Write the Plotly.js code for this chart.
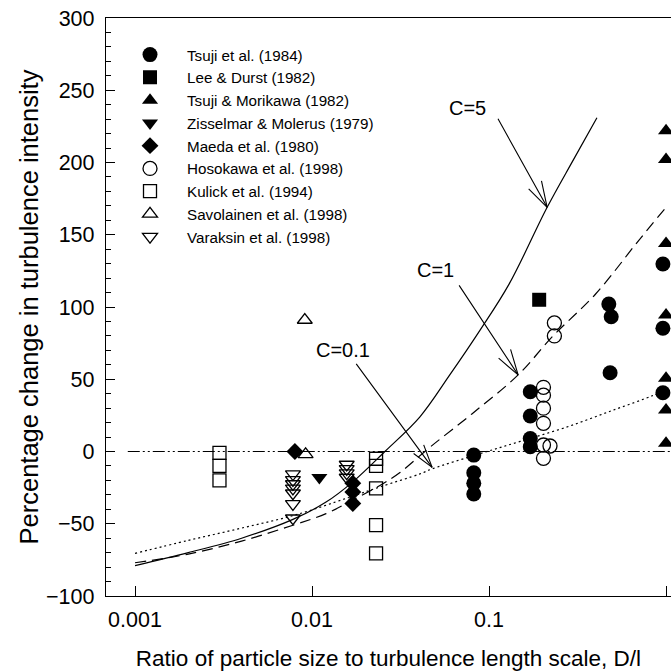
<!DOCTYPE html>
<html><head><meta charset="utf-8">
<script src="https://cdn.plot.ly/plotly-3.0.1.min.js"></script>
<style>html,body{margin:0;padding:0;overflow:hidden;background:#fff}</style>
</head><body><div id="chart" style="width:671px;height:671px"></div>
<script>
// ---- data ----
var tsuji1984_x = [0.082,0.082,0.082,0.082, 0.171,0.171,0.171,0.171, 0.475,0.49,0.483, 0.96,0.96,0.96];
var tsuji1984_y = [-2.5,-14.7,-22,-29.4, 41.4,24.6,9,3.3, 102,93.3,54.5, 129.8,85.3,40.7];
var leeDurst_x = [0.192];
var leeDurst_y = [105];
var tsujiMorikawa_x = [1.0,1.0,1.0,1.0,1.0,1.0,1.0];
var tsujiMorikawa_y = [222,202,144,94.5,50.7,28.7,5.7];
var zisselmar_x = [0.011];
var zisselmar_y = [-18];
var maeda_x = [0.008,0.017,0.017,0.017];
var maeda_y = [0,-22,-28,-36];
var hosokawa_x = [0.203,0.203,0.203,0.203,0.203,0.203,0.221,0.234,0.234];
var hosokawa_y = [44.4,39,30,19.5,4.5,-4.7,3.8,89,80];
var kulick_x = [0.003,0.003,0.003,0.023,0.023,0.023,0.023,0.023];
var kulick_y = [-1,-10,-20,-5,-10,-25.5,-51,-70.5];
var savolainen_x = [0.0092,0.0091];
var savolainen_y = [-2,91];
var varaksin_x = [0.0078,0.0078,0.0078,0.0078,0.0078,0.0078,0.0078,0.0157,0.0157,0.0157,0.0157];
var varaksin_y = [-15.6,-19.7,-22.5,-25.5,-28.9,-36.3,-46.2,-9,-12,-15,-18];

var c5_x = [0.001,0.002,0.004,0.0078,0.012,0.017,0.0258,0.0407,0.06,0.089,0.13,0.213,0.3,0.407];
var c5_y = [-79,-70,-60,-47,-35,-21,0,24,53,84,116,169,202,231];
var c1_x = [0.001,0.002,0.004,0.0078,0.012,0.017,0.0242,0.0314,0.0464,0.08,0.146,0.23,0.4,0.7,1.0];
var c1_y = [-77,-71,-62,-51,-43,-33.6,-23.5,-14.5,3,26,53,80,109,146,169];
var c01_x = [0.001,0.002,0.004,0.008,0.016,0.0242,0.0407,0.0477,0.089,0.15,0.27,0.5,0.845,1.0];
var c01_y = [-70.5,-61.5,-53,-44,-32,-24.5,-15.5,-12,-1.5,7,16.6,28.5,38.8,43];
var ref_x = [0.00091,1.3];
var ref_y = [0,0];

var xTickVals = [0.001,0.01,0.1,1];
var xTickText = ['0.001','0.01','0.1','1'];
var yTickVals = [-100,-50,0,50,100,150,200,250,300];

var seriesNames = ['Tsuji et al. (1984)','Lee & Durst (1982)','Tsuji & Morikawa (1982)','Zisselmar & Molerus (1979)','Maeda et al. (1980)','Hosokawa et al. (1998)','Kulick et al. (1994)','Savolainen et al. (1998)','Varaksin et al. (1998)'];
var curveLabels = ['C=5','C=1','C=0.1'];

// ---- traces ----
function line(x,y,dash,smooth){
  return {x:x,y:y,mode:'lines',type:'scatter',showlegend:false,hoverinfo:'skip',
          line:{color:'black',width:1.2,dash:dash,shape:smooth?'spline':'linear',smoothing:1}};
}
function pts(x,y,name,symbol,size){
  var open = symbol.indexOf('open')>=0;
  return {x:x,y:y,mode:'markers',type:'scatter',name:name,legendgroup:name,
          marker:{symbol:symbol,size:size,color:'black',line:{color:'black',width:open?1.3:0}}};
}
var traces = [
  line(ref_x,ref_y,'12px,3px,2px,3px,2px,3px',false),
  line(c5_x,c5_y,'solid',true),
  line(c1_x,c1_y,'11px,6px',true),
  line(c01_x,c01_y,'2px,3px',true),
  pts(tsuji1984_x,tsuji1984_y,seriesNames[0],'circle',15),
  pts(leeDurst_x,leeDurst_y,seriesNames[1],'square',14),
  pts(tsujiMorikawa_x,tsujiMorikawa_y,seriesNames[2],'triangle-up',14),
  pts(zisselmar_x,zisselmar_y,seriesNames[3],'triangle-down',14),
  pts(maeda_x,maeda_y,seriesNames[4],'diamond',13),
  pts(hosokawa_x,hosokawa_y,seriesNames[5],'circle-open',14),
  pts(kulick_x,kulick_y,seriesNames[6],'square-open',13),
  pts(savolainen_x,savolainen_y,seriesNames[7],'triangle-up-open',13),
  pts(varaksin_x,varaksin_y,seriesNames[8],'triangle-down-open',13)
];

// ---- annotations: labels + arrows (tip on curve, shaft offset, V head) ----
var arrowSpecs = [
  {tx:Math.log10(0.213), ty:169, ax:-50, ay:-90, h1:[-20,-20], h2:[-6,-28], lx:Math.log10(0.0751), ly:237.7},
  {tx:Math.log10(0.146), ty:53, ax:-60, ay:-91, h1:[-21,-18], h2:[-8,-27], lx:Math.log10(0.0496), ly:125.6},
  {tx:Math.log10(0.0477), ty:-11, ax:-77, ay:-105, h1:[-20,-15], h2:[-9,-24], lx:Math.log10(0.01496), ly:70.2}
];
var annotations = [];
arrowSpecs.forEach(function(s,i){
  [[s.ax,s.ay],s.h1,s.h2].forEach(function(o){
    annotations.push({x:s.tx,y:s.ty,xref:'x',yref:'y',ax:o[0],ay:o[1],text:'',showarrow:true,
      arrowhead:0,arrowwidth:1.1,arrowcolor:'black',standoff:0,startstandoff:0});
  });
  annotations.push({x:s.lx,y:s.ly,xref:'x',yref:'y',text:curveLabels[i],showarrow:false,
    font:{size:20,color:'black'},xanchor:'center',yanchor:'middle'});
});

var layout = {
  width:671,height:671,
  margin:{l:106,r:0,t:18,b:75},
  paper_bgcolor:'white',plot_bgcolor:'white',
  font:{family:'"Liberation Sans", Arial, Helvetica, sans-serif',color:'black',size:20},
  showlegend:true,
  legend:{x:0.0124,y:0.965,xanchor:'left',yanchor:'top',font:{size:15.2,color:'black'},
          itemwidth:64,bgcolor:'rgba(0,0,0,0)',borderwidth:0,tracegroupgap:0,traceorder:'normal'},
  xaxis:{type:'log',range:[-3.164,0.028],tickvals:xTickVals,ticktext:xTickText,
         ticks:'inside',ticklen:10,tickwidth:1,tickcolor:'black',ticklabelstandoff:4,
         showline:true,linecolor:'black',linewidth:1.2,mirror:true,showgrid:false,zeroline:false,
         tickfont:{size:21.5},
         title:{text:'Ratio of particle size to turbulence length scale, D/l',font:{size:22.5},standoff:20}},
  yaxis:{range:[-100,300],tickvals:yTickVals,ticks:'inside',ticklen:9,tickwidth:1,tickcolor:'black',
         ticklabelstandoff:6,
         minor:{dtick:10,ticks:'inside',ticklen:5,tickwidth:1,tickcolor:'black',showgrid:false},
         showline:true,linecolor:'black',linewidth:1.2,mirror:false,showgrid:false,zeroline:false,
         tickfont:{size:21.5},
         title:{text:'Percentage change in turbulence intensity',font:{size:25.5},standoff:0}},
  annotations:annotations
};
Plotly.newPlot('chart',traces,layout,{staticPlot:true,displayModeBar:false});
</script></body></html>
